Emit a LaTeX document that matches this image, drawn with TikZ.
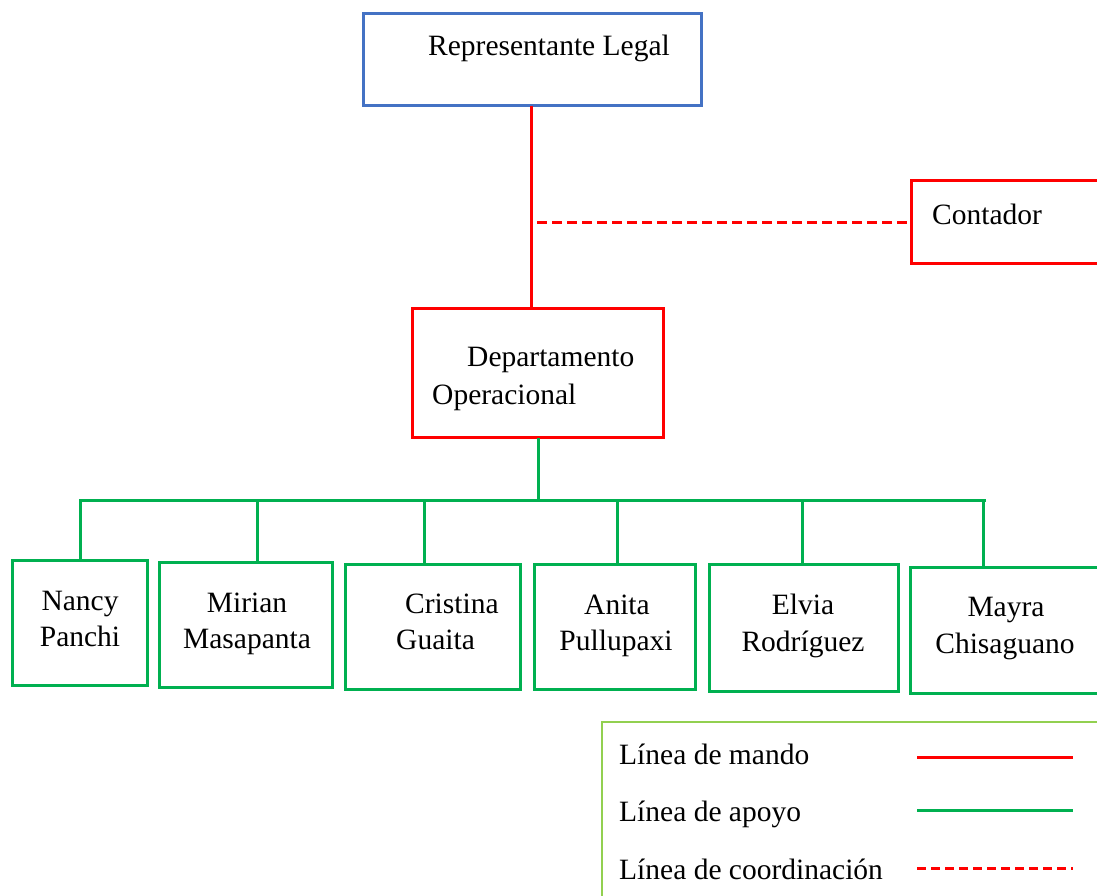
\documentclass[tikz,border=0pt]{standalone}
\usepackage{fontspec}
\setmainfont{Liberation Serif}
\definecolor{bblue}{HTML}{4472C4}
\definecolor{rred}{HTML}{FF0000}
\definecolor{ggreen}{HTML}{00B050}
\definecolor{lgreen}{HTML}{92D050}
\begin{document}
\begin{tikzpicture}[x=1pt,y=-1pt,
  every node/.style={font=\fontsize{29.5}{36}\selectfont},
  box/.style={draw=#1, line width=3pt, inner sep=0pt, outer sep=0pt, fill=white},
  lbl/.style={inner sep=0pt, anchor=base},
  lblw/.style={inner sep=0pt, anchor=base west},
  mando/.style={draw=rred, line width=3pt},
  apoyo/.style={draw=ggreen, line width=3pt},
  coord/.style={draw=rred, line width=3pt, dash pattern=on 10pt off 5pt}]
\useasboundingbox (0,0) rectangle (1097,895);
\fill[white] (0,0) rectangle (1097,895);
% top boxes
\node[box=bblue, minimum width=338pt, minimum height=92pt] (rep) at (532.5,59.5) {};
\node[lblw] (repT) at (428,55) {Representante Legal};
\node[box=rred, minimum width=220pt, minimum height=83pt] (cont) at (1021,222) {};
\node[lblw] (contT) at (932,224) {Contador};
\node[box=rred, minimum width=251pt, minimum height=129pt] (dept) at (538,373) {};
\node[lblw] (deptT1) at (467,366) {Departamento};
\node[lblw] (deptT2) at (432,404) {Operacional};
% staff boxes
\node[box=ggreen, minimum width=135pt, minimum height=125pt] (nancy) at (80,623) {};
\node[box=ggreen, minimum width=173pt, minimum height=125pt] (mirian) at (246,625) {};
\node[box=ggreen, minimum width=175pt, minimum height=125pt] (cristina) at (433,627) {};
\node[box=ggreen, minimum width=161pt, minimum height=125pt] (anita) at (615,627) {};
\node[box=ggreen, minimum width=189pt, minimum height=127pt] (elvia) at (804,628) {};
\node[box=ggreen, minimum width=220pt, minimum height=126pt] (mayra) at (1020,630.5) {};
\node[lbl] at (80,610) {Nancy};
\node[lbl] at (80,646) {Panchi};
\node[lbl] at (247,612) {Mirian};
\node[lbl] at (247,648) {Masapanta};
\node[lblw] at (405,613) {Cristina};
\node[lblw] at (396,649) {Guaita};
\node[lbl] at (617,614) {Anita};
\node[lbl] at (616,650) {Pullupaxi};
\node[lbl] at (803,614) {Elvia};
\node[lbl] at (803,651) {Rodríguez};
\node[lbl] at (1006,616) {Mayra};
\node[lbl] at (1005,653) {Chisaguano};
% connectors
\coordinate (redx) at (531,0);
\draw[mando] (redx |- rep.south) -- (redx |- dept.north);
\coordinate (dashstart) at (537,0);
\draw[coord] (dashstart |- cont.west) -- (cont.west);
\coordinate (greenx) at (538,0);
\coordinate (busL) at (80,500);
\coordinate (busR) at (984,500);
\draw[apoyo] (greenx |- dept.south) -- (greenx |- busL);
\draw[apoyo, line cap=rect] (busL) -- (busR);
\coordinate (tN) at (80,500);
\coordinate (tM) at (257,500);
\coordinate (tC) at (424,500);
\coordinate (tA) at (617,500);
\coordinate (tE) at (802,500);
\coordinate (tY) at (983,500);
\draw[apoyo] (tN) -- (tN |- nancy.north);
\draw[apoyo] (tM) -- (tM |- mirian.north);
\draw[apoyo] (tC) -- (tC |- cristina.north);
\draw[apoyo] (tA) -- (tA |- anita.north);
\draw[apoyo] (tE) -- (tE |- elvia.north);
\draw[apoyo] (tY) -- (tY |- mayra.north);
% legend
\node[draw=lgreen, line width=1.5pt, inner sep=0pt, minimum width=520pt, minimum height=200pt] (legend) at (862,822) {};
\node[lblw] (l1) at (619,764) {Línea de mando};
\node[lblw] (l2) at (619,821) {Línea de apoyo};
\node[lblw] (l3) at (619,879) {Línea de coordinación};
\coordinate (s1) at (917,757);
\coordinate (e1) at (1073,757);
\coordinate (s2) at (917,810);
\coordinate (e2) at (1073,810);
\coordinate (s3) at (917,868);
\coordinate (e3) at (1073,868);
\draw[mando] (s1) -- (e1);
\draw[apoyo] (s2) -- (e2);
\draw[draw=rred, line width=3pt, dash pattern=on 9pt off 5pt] (s3) -- (e3);
\end{tikzpicture}
\end{document}
